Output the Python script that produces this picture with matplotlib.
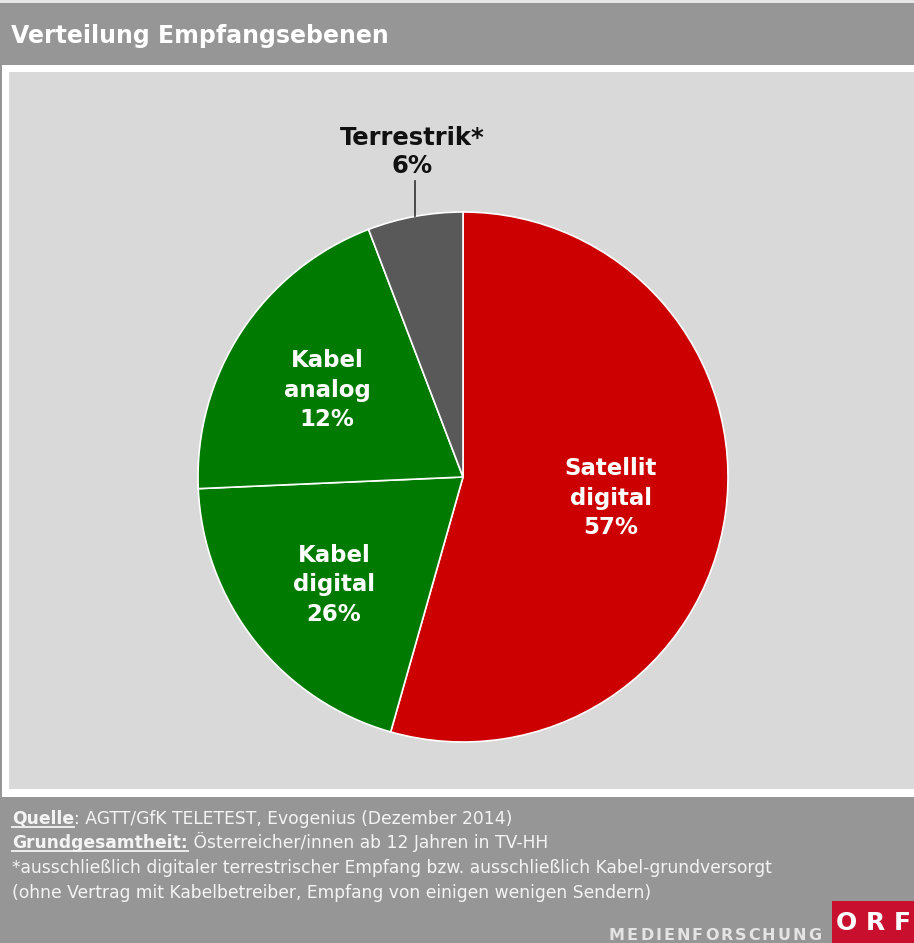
import matplotlib
matplotlib.use("Agg")
import matplotlib.pyplot as plt
from matplotlib.patches import Rectangle

# ---- data ----
categories = ["Satellit\ndigital", "Kabel\ndigital", "Kabel\nanalog", "Terrestrik*"]
shares = [54.4, 19.9, 19.9, 5.8]          # slice sizes as drawn in the reference
pct_labels = ["57%", "26%", "12%", "6%"]   # percentages as printed in the reference
colors = ["#CC0000", "#007A00", "#007A00", "#595959"]

title = "Verteilung Empfangsebenen"
source_lines = [
    ("Quelle", ": AGTT/GfK TELETEST, Evogenius (Dezember 2014)"),
    ("Grundgesamtheit:", " Österreicher/innen ab 12 Jahren in TV-HH"),
    (None, "*ausschließlich digitaler terrestrischer Empfang bzw. ausschließlich Kabel-grundversorgt"),
    (None, "(ohne Vertrag mit Kabelbetreiber, Empfang von einigen wenigen Sendern)"),
]
brand = "MEDIENFORSCHUNG"
logo = "ORF"

W, H = 914, 943
fig = plt.figure(figsize=(W / 100, H / 100), dpi=100)
fig.patch.set_facecolor("#969696")

bg = fig.add_axes([0, 0, 1, 1])
bg.set_xlim(0, W)
bg.set_ylim(H, 0)
bg.axis("off")

# top light strip
bg.add_patch(Rectangle((0, 0), W, 3, color="#E6E6E6", lw=0))
# white frame and inner panel
bg.add_patch(Rectangle((2, 65), W, 732, color="white", lw=0))
bg.add_patch(Rectangle((9, 72), W, 717, color="#D9D9D9", lw=0))

bg.text(11, 43, title, color="white", fontsize=17, fontweight="bold",
        family="DejaVu Sans", va="baseline", ha="left")

# ---- pie ----
cx, cy, r = 463, 477, 265
pax = fig.add_axes([(cx - r) / W, (H - cy - r) / H, 2 * r / W, 2 * r / H])
pax.pie(shares, colors=colors, startangle=90, counterclock=False,
        wedgeprops=dict(edgecolor="white", linewidth=1.2), radius=1)
pax.set_xlim(-1, 1)
pax.set_ylim(-1, 1)
pax.set_aspect("auto")
pax.axis("off")

# overlay for labels
ov = fig.add_axes([0, 0, 1, 1])
ov.set_xlim(0, W)
ov.set_ylim(H, 0)
ov.axis("off")
ov.patch.set_alpha(0)

lab_kw = dict(fontweight="bold", family="DejaVu Sans",
              ha="center", va="center", linespacing=1.38)
label_pos = [(611, 498), (334, 585), (327, 390)]
for (x, y), cat, pct in zip(label_pos, categories[:3], pct_labels[:3]):
    ov.text(x, y, f"{cat}\n{pct}", color="white", fontsize=16.5, **lab_kw)

ov.text(412, 152, f"{categories[3]}\n{pct_labels[3]}", color="#111111",
        fontsize=17.5, **{**lab_kw, "linespacing": 1.25})
ov.plot([415, 415], [181, 216], color="#333333", lw=1.2)

# ---- footer ----
fkw = dict(fontsize=12.3, family="DejaVu Sans", color="#F4F4F4", va="baseline",
           ha="left")
ys = [824, 848, 873, 898]
renderer = fig.canvas.get_renderer()
for (bold, rest), y in zip(source_lines, ys):
    x = 12
    if bold:
        t = ov.text(x, y, bold, fontweight="bold", **fkw)
        bb = t.get_window_extent(renderer)
        x1 = x + bb.width
        ov.plot([x, x1], [y + 3, y + 3], color="#F4F4F4", lw=1.3)
        x = x1
    ov.text(x, y, rest, **fkw)

# ORF logo
ov.add_patch(Rectangle((832, 901), 90, 45, color="#C8102E", lw=0))
for ch, xc in zip(logo, [846, 875, 902]):
    ov.text(xc, 930, ch, color="white", fontsize=18, fontweight="bold",
            family="DejaVu Sans", ha="center", va="baseline")

# letter-spaced brand text, right-aligned at x=821
widths = []
tmp = []
for ch in brand:
    t = ov.text(0, 0, ch, fontsize=11.5, fontweight="bold", family="DejaVu Sans")
    widths.append(t.get_window_extent(renderer).width)
    tmp.append(t)
for t in tmp:
    t.remove()
track = 2.0
total = sum(widths) + track * (len(brand) - 1)
x = 821 - total
for ch, w in zip(brand, widths):
    ov.text(x, 940, ch, color="#E4E4E4", fontsize=11.5, fontweight="bold",
            family="DejaVu Sans", ha="left", va="baseline")
    x += w + track

fig.savefig("out.png", dpi=100, facecolor=fig.get_facecolor())
